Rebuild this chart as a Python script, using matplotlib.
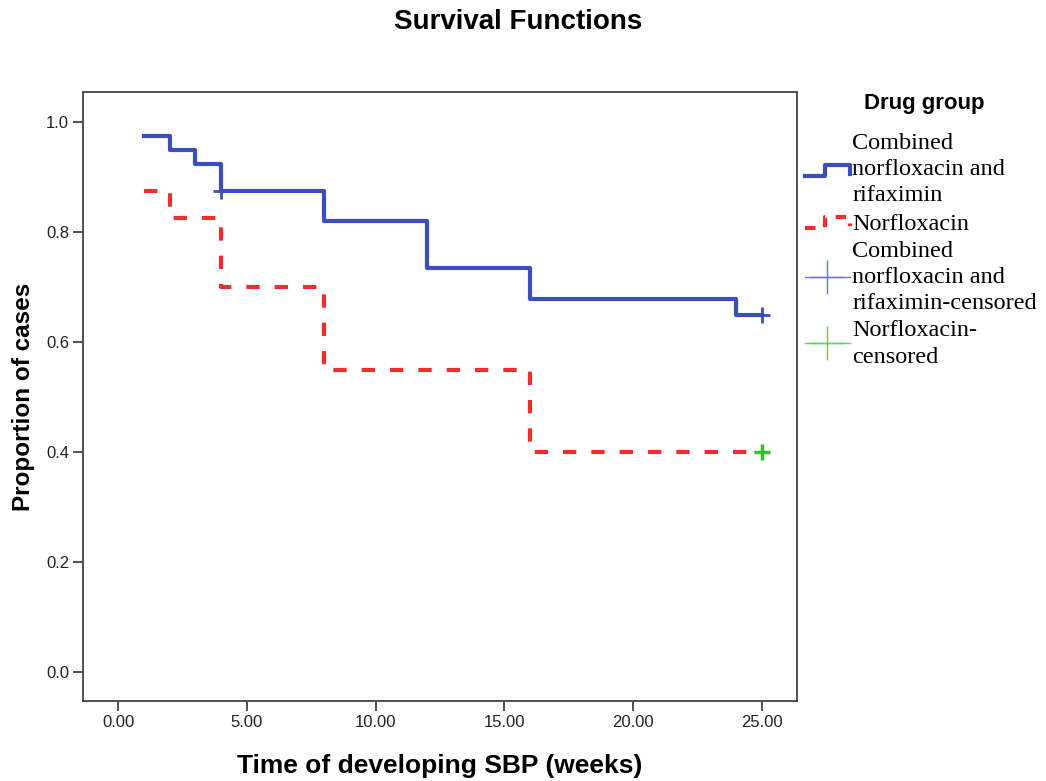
import numpy as np
import matplotlib.pyplot as plt
from matplotlib.lines import Line2D
from matplotlib.legend_handler import HandlerBase

# Kaplan-Meier steps
comb_t = [1, 2, 3, 4, 8, 12, 16, 24, 25]
comb_s = [0.975, 0.95, 0.925, 0.875, 0.82, 0.735, 0.678, 0.65, 0.65]
norf_t = [1, 2, 4, 8, 16, 25]
norf_s = [0.875, 0.825, 0.70, 0.55, 0.40, 0.40]

# censored points
comb_cens_t = [4, 25]
comb_cens_s = [0.875, 0.65]
norf_cens_t = [25]
norf_cens_s = [0.40]

x_ticks = [0, 5, 10, 15, 20, 25]
y_ticks = [0.0, 0.2, 0.4, 0.6, 0.8, 1.0]

labels = ['Combined\nnorfloxacin and\nrifaximin', 'Norfloxacin',
          'Combined\nnorfloxacin and\nrifaximin-censored', 'Norfloxacin-\ncensored']

BLUE = '#3c4fb8'
RED = '#ee2e2e'
GREEN = '#33c033'

plt.rcParams['font.family'] = ['Liberation Sans', 'DejaVu Sans']

fig = plt.figure(figsize=(10.46, 7.81), dpi=100)
ax = fig.add_axes([0.0794, 0.1024, 0.6826, 0.7797])

ax.plot(comb_t, comb_s, drawstyle='steps-post', color=BLUE, lw=3.0)
ax.plot(norf_t, norf_s, drawstyle='steps-post', color=RED, lw=3.0, ls=(0, (3.2, 3.6)))
ax.plot(comb_cens_t, comb_cens_s, ls='none', marker='+', ms=11, mew=2, color=BLUE)
ax.plot(norf_cens_t, norf_cens_s, ls='none', marker='+', ms=11, mew=2.5, color=GREEN)

ax.set_xlim(-1.36, 26.36)
ax.set_ylim(-0.053, 1.055)
ax.set_xticks(x_ticks)
ax.set_xticklabels(['%.2f' % v for v in x_ticks])
ax.set_yticks(y_ticks)
ax.set_yticklabels(['%.1f' % v for v in y_ticks])
ax.tick_params(direction='out', length=7, width=1.3, color='#444444',
               labelsize=12, labelcolor='#222222', pad=3)
for sp in ax.spines.values():
    sp.set_color('#444444')
    sp.set_linewidth(1.3)

ax.set_xlabel('Time of developing SBP (weeks)', fontsize=19, fontweight='bold', labelpad=17)
ax.set_ylabel('Proportion of cases', fontsize=17.5, fontweight='bold', labelpad=8)
fig.text(0.495, 0.972, 'Survival Functions', fontsize=20, fontweight='bold',
         ha='center', va='center')


class StepHandler(HandlerBase):
    # draws the little step glyph used by SPSS legends
    def create_artists(self, legend, orig_handle, xdescent, ydescent,
                       width, height, fontsize, trans):
        xs = np.array([0, 0.45, 0.45, 1.0, 1.0]) * width - xdescent
        ys = np.array([0.1, 0.1, 0.75, 0.75, 0.2]) * height - ydescent
        line = Line2D(xs, ys)
        line.update_from(orig_handle)
        line.set_transform(trans)
        return [line]


h_comb = Line2D([], [], color=BLUE, lw=3.0)
h_norf = Line2D([], [], color=RED, lw=3.0, ls=(0, (2.5, 2.5)))
h_comb_c = Line2D([], [], color='#6677cc', lw=1, marker='+', ms=24, mew=1)
h_norf_c = Line2D([], [], color='#55d455', lw=1, marker='+', ms=24, mew=1)

# legend title placed on its own, SPSS leaves a gap under it
fig.text(0.884, 0.867, 'Drug group', fontsize=16, fontweight='bold',
         ha='center', va='center')
leg = fig.legend([h_comb, h_norf, h_comb_c, h_norf_c], labels,
                 handler_map={h_comb: StepHandler(), h_norf: StepHandler()},
                 loc='upper left', bbox_to_anchor=(0.767, 0.833), frameon=False,
                 prop={'family': 'Liberation Serif', 'size': 17.5},
                 handlelength=1.85, handletextpad=0.1, labelspacing=0.25,
                 borderaxespad=0.0, borderpad=0.1, numpoints=1)
for t in leg.get_texts():
    t.set_linespacing(1.33)

fig.savefig('out.png', dpi=100)
